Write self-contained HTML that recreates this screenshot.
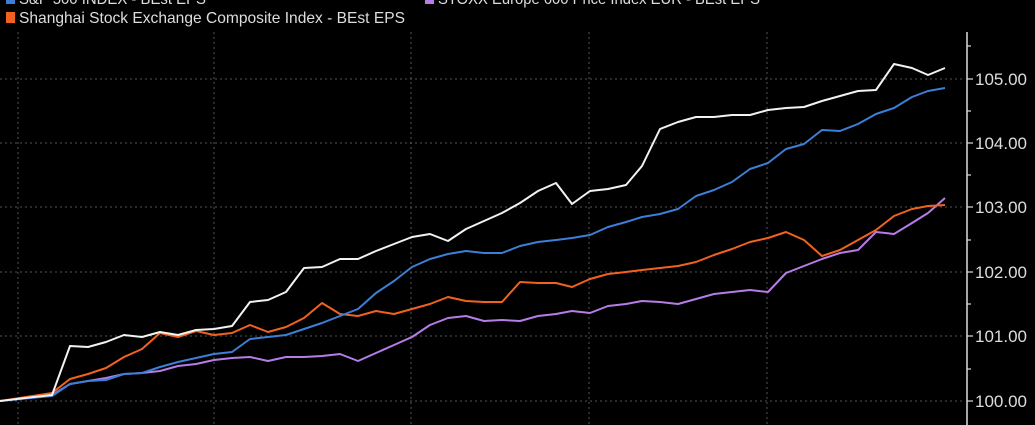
<!DOCTYPE html>
<html><head><style>
html,body{margin:0;background:#000;width:1035px;height:425px;overflow:hidden}
.t{font-family:"Liberation Sans",sans-serif;fill:#ddd}
</style></head><body>
<svg width="1035" height="425" xmlns="http://www.w3.org/2000/svg">
<rect width="1035" height="425" fill="#000"/>
<g stroke="#555" stroke-width="1" stroke-dasharray="2,3">
<line x1="0" y1="79" x2="962" y2="79"/><line x1="0" y1="143" x2="962" y2="143"/>
<line x1="0" y1="207" x2="962" y2="207"/><line x1="0" y1="272" x2="962" y2="272"/>
<line x1="0" y1="336" x2="962" y2="336"/><line x1="0" y1="401" x2="962" y2="401"/>
<line x1="18" y1="32" x2="18" y2="425"/><line x1="214" y1="32" x2="214" y2="425"/>
<line x1="411" y1="32" x2="411" y2="425"/><line x1="589" y1="32" x2="589" y2="425"/>
<line x1="767" y1="32" x2="767" y2="425"/>
</g>
<line x1="967" y1="32" x2="967" y2="425" stroke="#ddd" stroke-width="1.5"/>
<g stroke="#ddd" stroke-width="1.2">
<line x1="967" y1="79" x2="973" y2="79"/><line x1="967" y1="143" x2="973" y2="143"/><line x1="967" y1="207" x2="973" y2="207"/><line x1="967" y1="272" x2="973" y2="272"/><line x1="967" y1="336" x2="973" y2="336"/><line x1="967" y1="401" x2="973" y2="401"/>
<line x1="967" y1="46" x2="971" y2="46"/><line x1="967" y1="111" x2="971" y2="111"/><line x1="967" y1="175" x2="971" y2="175"/><line x1="967" y1="240" x2="971" y2="240"/><line x1="967" y1="304" x2="971" y2="304"/><line x1="967" y1="369" x2="971" y2="369"/>
</g>
<g class="t" font-size="17">
<text x="975" y="85">105.00</text><text x="975" y="149">104.00</text><text x="975" y="213">103.00</text>
<text x="975" y="278">102.00</text><text x="975" y="342">101.00</text><text x="975" y="407">100.00</text>
</g>
<g class="t" font-size="16">
<rect x="6" y="-6" width="9" height="10" fill="#3d7fd6"/><text x="19" y="4" textLength="187" lengthAdjust="spacingAndGlyphs">S&amp;P 500 INDEX - BEst EPS</text>
<rect x="425" y="-6" width="9" height="10" fill="#b77ce8"/><text x="438" y="4" textLength="322" lengthAdjust="spacingAndGlyphs">STOXX Europe 600 Price Index EUR - BEst EPS</text>
<rect x="6" y="12" width="9" height="11" fill="#f0621e"/><text x="19" y="23" textLength="386" lengthAdjust="spacingAndGlyphs">Shanghai Stock Exchange Composite Index - BEst EPS</text>
</g>
<g fill="none" stroke-width="2" stroke-linejoin="round">
<polyline stroke="#b77ce8" points="0,401 52,395 70,384 88,381 106,378 124,374 142,373 160,371 178,366 196,364 214,360 232,358 250,357 268,361 286,357 304,357 322,356 340,354 358,361 376,353 394,345 412,337 430,325 448,318 466,316 484,321 502,320 520,321 538,316 556,314 572,311 590,313 608,306 626,304 642,301 660,302 678,304 696,299 714,294 732,292 750,290 768,292 786,273 804,266 822,259 840,253 858,250 876,232 894,234 912,223 928,213 945,198"/>
<polyline stroke="#f0621e" points="0,401 52,393 70,379 88,374 106,368 124,357 142,349 160,333 178,337 196,331 214,335 232,333 250,325 268,332 286,327 304,318 322,303 340,314 358,316 376,311 394,314 412,309 430,304 448,297 466,301 484,302 502,302 520,282 538,283 556,283 572,287 590,279 608,274 626,272 642,270 660,268 678,266 696,262 714,255 732,249 750,242 768,238 786,232 804,240 822,256 840,250 858,240 876,230 894,216 912,209 928,206 945,205"/>
<polyline stroke="#3d7fd6" points="0,401 52,396 70,384 88,381 106,380 124,374 142,373 160,367 178,362 196,358 214,354 232,352 250,339 268,337 286,335 304,329 322,323 340,316 358,309 376,293 394,281 412,267 430,259 448,254 466,251 484,253 502,253 520,246 538,242 556,240 572,238 590,235 608,227 626,222 642,217 660,214 678,209 696,196 714,190 732,182 750,169 768,163 786,149 804,144 822,130 840,131 858,124 876,114 894,108 912,97 928,91 945,88"/>
<polyline stroke="#f2f2f2" points="0,401 25,398 52,395 70,346 88,347 106,342 124,335 142,337 160,332 178,335 196,330 214,329 232,326 250,302 268,300 286,292 304,268 322,267 340,259 358,259 376,251 394,244 412,237 430,234 448,241 466,229 484,221 502,213 520,203 538,191 556,183 572,204 590,191 608,189 626,185 642,166 660,129 678,122 696,117 714,117 732,115 750,115 768,110 786,108 804,107 822,101 840,96 858,91 876,90 894,64 912,68 928,75 945,68"/>
</g>
</svg>
</body></html>
